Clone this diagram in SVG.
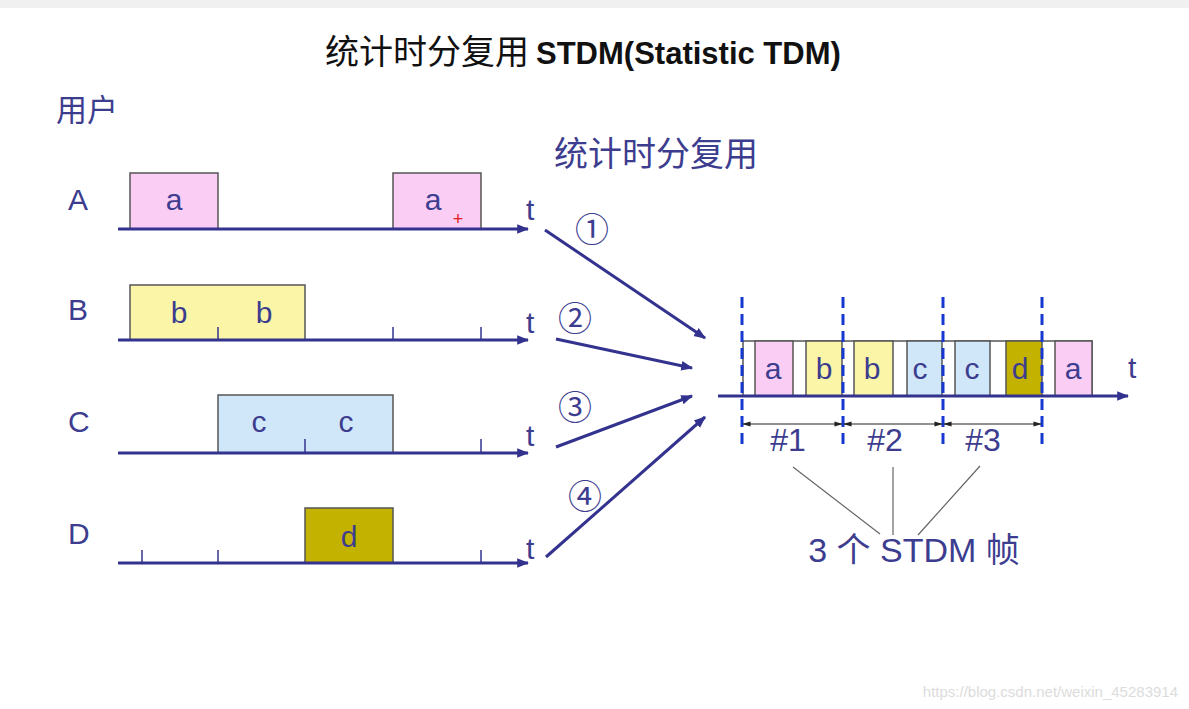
<svg xmlns="http://www.w3.org/2000/svg" width="1189" height="709" viewBox="0 0 1189 709">
<defs>
<marker id="ah" viewBox="0 0 10 10" refX="9" refY="5" markerWidth="4" markerHeight="4" orient="auto"><path d="M0,1 L10,5 L0,9 z" fill="#33338f"/></marker>
<marker id="dim" viewBox="0 0 10 10" refX="9" refY="5" markerWidth="7" markerHeight="7" orient="auto-start-reverse"><path d="M0,2 L10,5 L0,8 z" fill="#222"/></marker>
<style>
.lbl{font-family:"Liberation Sans","Noto Sans CJK SC",sans-serif;fill:#3d3d8f}
.cjk{font-family:"Noto Sans CJK SC","Liberation Sans",sans-serif;fill:#3d3d8f}
.ax{stroke:#33338f;stroke-width:3;fill:none}
.tk{stroke:#33338f;stroke-width:1.5}
.bx{stroke:#555;stroke-width:1.5}
.pa{fill:#f9cdf4}.yb{fill:#fbf5a8}.lc{fill:#cfe7f8}.od{fill:#c3b200}
.ln{stroke:#33338f;stroke-width:3;fill:none}
.dash{stroke:#1638d0;stroke-width:3;stroke-dasharray:11,6}
.lead{stroke:#666;stroke-width:1.2}
</style>
</defs>
<rect width="1189" height="709" fill="#fff"/>
<rect width="1189" height="8" fill="#f0f0f0"/>
<g id="title">
<text x="325" y="64" font-family="Noto Sans CJK SC,sans-serif" font-size="34" fill="#111">统计时分复用<tspan font-family="Liberation Sans,sans-serif" font-weight="bold" font-size="31" dx="7">STDM(Statistic TDM)</tspan></text>
</g>
<text class="cjk" x="56" y="121" font-size="31">用户</text>
<text class="cjk" x="554" y="166" font-size="34">统计时分复用</text>

<g id="userA">
<text class="lbl" x="68" y="210" font-size="30">A</text>
<rect class="bx pa" x="130" y="173" width="88" height="56"/>
<rect class="bx pa" x="393" y="173" width="88" height="56"/>
<text class="lbl" x="174" y="210" font-size="30" text-anchor="middle">a</text>
<text class="lbl" x="433" y="210" font-size="30" text-anchor="middle">a</text>
<text x="458" y="225" font-family="Liberation Sans,sans-serif" font-size="18" fill="#e02020" text-anchor="middle">+</text>
<line class="ax" x1="118" y1="229" x2="528" y2="229" marker-end="url(#ah)"/>
<text class="lbl" x="526" y="220" font-size="30">t</text>
</g>
<g id="userB">
<text class="lbl" x="68" y="320" font-size="30">B</text>
<rect class="bx yb" x="130" y="285" width="175" height="55"/>
<text class="lbl" x="179" y="323" font-size="30" text-anchor="middle">b</text>
<text class="lbl" x="264" y="323" font-size="30" text-anchor="middle">b</text>
<line class="tk" x1="218" y1="327" x2="218" y2="340"/>
<line class="tk" x1="393" y1="327" x2="393" y2="340"/>
<line class="tk" x1="481" y1="327" x2="481" y2="340"/>
<line class="ax" x1="118" y1="340" x2="528" y2="340" marker-end="url(#ah)"/>
<text class="lbl" x="526" y="333" font-size="30">t</text>
</g>
<g id="userC">
<text class="lbl" x="68" y="432" font-size="30">C</text>
<rect class="bx lc" x="218" y="395" width="175" height="58"/>
<text class="lbl" x="259" y="432" font-size="30" text-anchor="middle">c</text>
<text class="lbl" x="346" y="432" font-size="30" text-anchor="middle">c</text>
<line class="tk" x1="305" y1="439" x2="305" y2="453"/>
<line class="tk" x1="481" y1="439" x2="481" y2="453"/>
<line class="ax" x1="118" y1="453" x2="528" y2="453" marker-end="url(#ah)"/>
<text class="lbl" x="526" y="446" font-size="30">t</text>
</g>
<g id="userD">
<text class="lbl" x="68" y="544" font-size="30">D</text>
<rect class="bx od" x="305" y="508" width="88" height="55"/>
<text class="lbl" x="349" y="547" font-size="30" text-anchor="middle">d</text>
<line class="tk" x1="142" y1="550" x2="142" y2="563"/>
<line class="tk" x1="218" y1="550" x2="218" y2="563"/>
<line class="tk" x1="481" y1="550" x2="481" y2="563"/>
<line class="ax" x1="118" y1="563" x2="528" y2="563" marker-end="url(#ah)"/>
<text class="lbl" x="526" y="559" font-size="30">t</text>
</g>

<g id="connectors">
<line class="ln" x1="545" y1="230" x2="705" y2="338" marker-end="url(#ah)"/>
<line class="ln" x1="556" y1="339" x2="692" y2="368" marker-end="url(#ah)"/>
<line class="ln" x1="556" y1="447" x2="692" y2="396" marker-end="url(#ah)"/>
<line class="ln" x1="546" y1="557" x2="705" y2="417" marker-end="url(#ah)"/>
<text class="lbl" x="592" y="242" font-size="34" text-anchor="middle">①</text>
<text class="lbl" x="575" y="331" font-size="34" text-anchor="middle">②</text>
<text class="lbl" x="575" y="420" font-size="34" text-anchor="middle">③</text>
<text class="lbl" x="585" y="509" font-size="34" text-anchor="middle">④</text>
</g>

<g id="stdm">
<rect x="743" y="341" width="349" height="55" fill="#fff" stroke="#555" stroke-width="1.5"/>
<rect class="bx pa" x="755" y="341" width="38" height="55"/>
<rect class="bx yb" x="806" y="341" width="36" height="55"/>
<rect class="bx yb" x="854" y="341" width="39" height="55"/>
<rect class="bx lc" x="907" y="341" width="35" height="55"/>
<rect class="bx lc" x="955" y="341" width="35" height="55"/>
<rect class="bx od" x="1006" y="341" width="36" height="55"/>
<rect class="bx pa" x="1055" y="341" width="37" height="55"/>
<text class="lbl" x="773" y="379" font-size="30" text-anchor="middle">a</text>
<text class="lbl" x="824" y="379" font-size="30" text-anchor="middle">b</text>
<text class="lbl" x="872" y="379" font-size="30" text-anchor="middle">b</text>
<text class="lbl" x="920" y="379" font-size="30" text-anchor="middle">c</text>
<text class="lbl" x="972" y="379" font-size="30" text-anchor="middle">c</text>
<text class="lbl" x="1020" y="379" font-size="30" text-anchor="middle">d</text>
<text class="lbl" x="1073" y="379" font-size="30" text-anchor="middle">a</text>
<line class="ax" x1="718" y1="396" x2="1128" y2="396" marker-end="url(#ah)"/>
<text class="lbl" x="1128" y="378" font-size="30">t</text>
<line class="dash" x1="742" y1="297" x2="742" y2="444"/>
<line class="dash" x1="843" y1="297" x2="843" y2="444"/>
<line class="dash" x1="943" y1="297" x2="943" y2="444"/>
<line class="dash" x1="1042" y1="297" x2="1042" y2="444"/>
<line x1="743" y1="424" x2="842" y2="424" stroke="#222" stroke-width="1.2" marker-start="url(#dim)" marker-end="url(#dim)"/>
<line x1="844" y1="424" x2="942" y2="424" stroke="#222" stroke-width="1.2" marker-start="url(#dim)" marker-end="url(#dim)"/>
<line x1="944" y1="424" x2="1041" y2="424" stroke="#222" stroke-width="1.2" marker-start="url(#dim)" marker-end="url(#dim)"/>
<text class="lbl" x="788" y="451" font-size="32" text-anchor="middle">#1</text>
<text class="lbl" x="885" y="451" font-size="32" text-anchor="middle">#2</text>
<text class="lbl" x="983" y="451" font-size="32" text-anchor="middle">#3</text>
</g>

<g id="frames-label">
<line class="lead" x1="793" y1="467" x2="880" y2="534"/>
<line class="lead" x1="893" y1="467" x2="893" y2="535"/>
<line class="lead" x1="980" y1="466" x2="918" y2="535"/>
<text class="lbl" x="914" y="562" font-size="34" text-anchor="middle">3 个 STDM 帧</text>
</g>

<text x="1178" y="697" font-family="Liberation Sans,sans-serif" font-size="15" fill="#dcdcdc" text-anchor="end">https://blog.csdn.net/weixin_45283914</text>
</svg>
